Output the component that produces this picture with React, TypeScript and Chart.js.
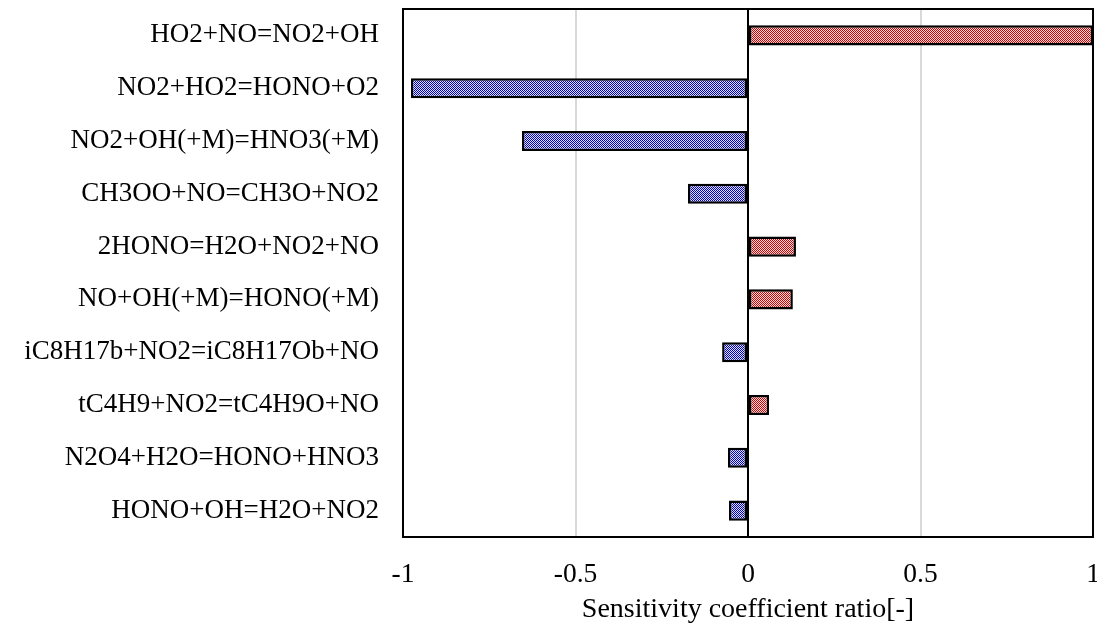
import React, { useEffect, useRef } from "react";
import { Chart, registerables } from "chart.js";

Chart.register(...registerables);

const categories = [
  "HO2+NO=NO2+OH",
  "NO2+HO2=HONO+O2",
  "NO2+OH(+M)=HNO3(+M)",
  "CH3OO+NO=CH3O+NO2",
  "2HONO=H2O+NO2+NO",
  "NO+OH(+M)=HONO(+M)",
  "iC8H17b+NO2=iC8H17Ob+NO",
  "tC4H9+NO2=tC4H9O+NO",
  "N2O4+H2O=HONO+HNO3",
  "HONO+OH=H2O+NO2",
];

const sensitivity = [1.0, -0.977, -0.655, -0.174, 0.139, 0.13, -0.075, 0.061, -0.058, -0.055];

const xTicks = [-1, -0.5, 0, 0.5, 1];
const xTitle = "Sensitivity coefficient ratio[-]";

const FONT = "'Liberation Serif', 'Times New Roman', serif";

function makePattern(color: string, light: string): CanvasPattern | string {
  const c = document.createElement("canvas");
  c.width = 2;
  c.height = 2;
  const ctx = c.getContext("2d");
  if (!ctx) return color;
  ctx.fillStyle = light;
  ctx.fillRect(0, 0, 2, 2);
  ctx.fillStyle = color;
  ctx.fillRect(0, 0, 1, 1);
  ctx.fillRect(1, 1, 1, 1);
  const p = ctx.createPattern(c, "repeat");
  return p || color;
}

const framePlugin = {
  id: "frame",
  afterDraw(chart: any) {
    const { ctx, chartArea } = chart;
    ctx.save();
    ctx.strokeStyle = "#000";
    ctx.lineWidth = 2;
    ctx.strokeRect(chartArea.left, chartArea.top, chartArea.right - chartArea.left, chartArea.bottom - chartArea.top);
    ctx.restore();
  },
};

export default function App() {
  const ref = useRef<HTMLCanvasElement>(null);
  useEffect(() => {
    if (!ref.current) return;
    const red = makePattern("#d40000", "#fbe2e2");
    const blue = makePattern("#0000c8", "#e2e2fb");
    const chart = new Chart(ref.current, {
      type: "bar",
      data: {
        labels: categories,
        datasets: [
          {
            data: sensitivity,
            backgroundColor: sensitivity.map((v) => (v >= 0 ? red : blue)) as any,
            borderColor: "#000",
            borderWidth: 2.5,
            borderSkipped: false,
            barPercentage: 0.38,
            categoryPercentage: 1,
          },
        ],
      },
      options: {
        indexAxis: "y",
        animation: false,
        responsive: false,
        layout: { padding: { top: 9, right: 4, left: 0, bottom: 0 } },
        plugins: { legend: { display: false }, tooltip: { enabled: false } },
        scales: {
          x: {
            min: -1,
            max: 1,
            afterFit: (s: any) => {
              s.height = 91;
              s.paddingLeft = 0;
              s.paddingRight = 0;
            },
            afterBuildTicks: (s: any) => {
              s.ticks = xTicks.map((v) => ({ value: v }));
            },
            ticks: {
              color: "#000",
              font: { family: FONT, size: 27.5 },
              padding: 21,
              maxRotation: 0,
              callback: (v: any) => String(v),
            },
            grid: {
              drawTicks: false,
              color: (c: any) => {
                const v = c.tick ? c.tick.value : 0;
                if (v === 0) return "#000";
                if (Math.abs(v) === 1) return "rgba(0,0,0,0)";
                return "#d9d9d9";
              },
              lineWidth: 2,
            },
            border: { display: false },
            title: {
              display: true,
              text: xTitle,
              color: "#000",
              font: { family: FONT, size: 28 },
              padding: { top: 0, bottom: 2 },
            },
          },
          y: {
            afterFit: (s: any) => {
              s.width = 403;
              s.paddingTop = 0;
              s.paddingBottom = 0;
            },
            ticks: {
              color: "#000",
              font: { family: FONT, size: 27 },
              padding: 24,
            },
            grid: { display: false, drawTicks: false },
            border: { display: false },
          },
        },
      },
      plugins: [framePlugin],
    });
    return () => chart.destroy();
  }, []);
  return (
    <div style={{ position: "fixed", left: 0, top: 0, width: 1097, height: 628, background: "#fff" }}>
      <canvas ref={ref} width={1097} height={628} style={{ display: "block" }} />
    </div>
  );
}
